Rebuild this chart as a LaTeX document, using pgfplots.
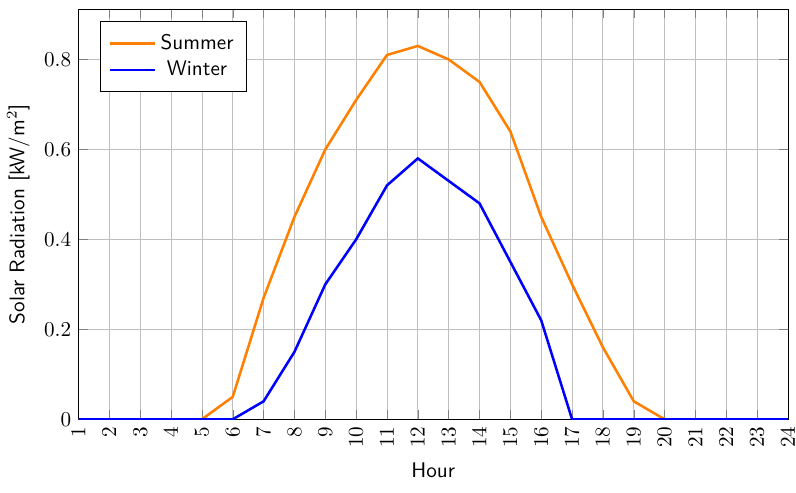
\documentclass[border=0pt]{standalone}
\usepackage{pgfplots}
\pgfplotsset{compat=1.18}
\definecolor{sumorange}{rgb}{1,0.5,0}
\begin{document}
\begin{tikzpicture}
\begin{axis}[
  scale only axis,
  width=335.5pt, height=194pt,
  xmin=1, xmax=24, ymin=0, ymax=0.912,
  xtick={1,...,24},
  ytick={0,0.2,0.4,0.6,0.8},
  xticklabel style={rotate=90, anchor=east},
  grid=major,
  xlabel={\sffamily Hour},
  ylabel={\sffamily Solar Radiation [kW/m$^2$]},
  legend pos=north west,
  legend style={font=\sffamily, inner xsep=4pt, inner ysep=4pt},
  legend cell align=center,
  legend image code/.code={\draw[#1] (0cm,0cm) -- (0.75cm,0cm);},
]
\addplot[sumorange, line width=1.2pt] coordinates {
(1,0) (2,0) (3,0) (4,0) (5,0) (6,0.05) (7,0.27) (8,0.45) (9,0.60) (10,0.71)
(11,0.81) (12,0.83) (13,0.80) (14,0.75) (15,0.64) (16,0.45) (17,0.30) (18,0.16)
(19,0.04) (20,0) (21,0) (22,0) (23,0) (24,0)};
\addlegendentry{Summer}
\addplot[blue, line width=1.2pt] coordinates {
(1,0) (2,0) (3,0) (4,0) (5,0) (6,0) (7,0.04) (8,0.15) (9,0.30) (10,0.40)
(11,0.52) (12,0.58) (13,0.53) (14,0.48) (15,0.35) (16,0.22) (17,0) (18,0)
(19,0) (20,0) (21,0) (22,0) (23,0) (24,0)};
\addlegendentry{Winter}
\end{axis}
\pgfresetboundingbox
\path ([yshift=-4pt]current axis.outer south west) rectangle ([xshift=3.8pt,yshift=4.3pt]current axis.north east);
\end{tikzpicture}
\end{document}
